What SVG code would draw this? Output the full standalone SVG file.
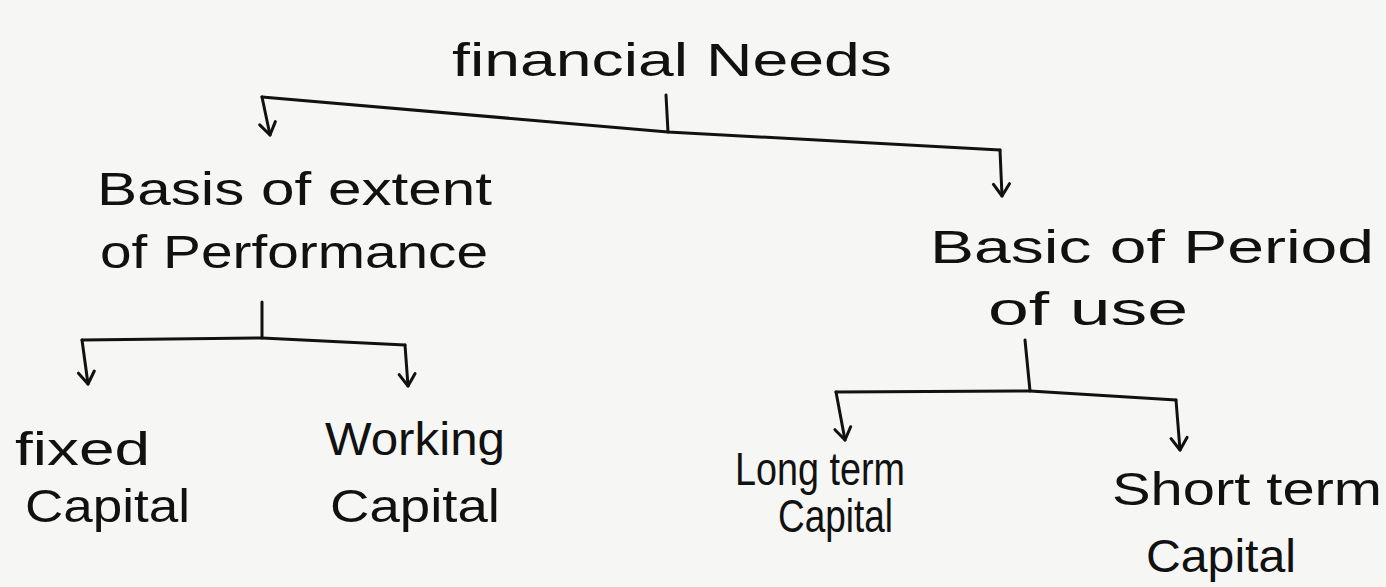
<svg xmlns="http://www.w3.org/2000/svg" width="1386" height="587" viewBox="0 0 1386 587">
<style>
.t{font-family:"Liberation Sans","DejaVu Sans",sans-serif;fill:#111;font-size:46px}
.c{fill:none;stroke:#111;stroke-width:3;stroke-linecap:round;stroke-linejoin:round}
</style>
<defs>
<marker id="ah" viewBox="0 0 20 20" refX="18" refY="10" markerWidth="20" markerHeight="20" markerUnits="userSpaceOnUse" orient="auto">
<path d="M6 2 L18 10 L6 18" fill="none" stroke="#111" stroke-width="3" stroke-linecap="round" stroke-linejoin="round"/>
</marker>
</defs>
<rect width="1386" height="587" fill="#f6f6f4"/>
<g id="connectors">
<path class="c" d="M666 95 L668 132"/>
<path class="c" d="M262 97 L668 132 L1000 150"/>
<path class="c" d="M262 97 L270 135" marker-end="url(#ah)"/>
<path class="c" d="M1000 150 L1002 196" marker-end="url(#ah)"/>
<path class="c" d="M262 302 L262 338"/>
<path class="c" d="M82 340 L262 338 L405 345"/>
<path class="c" d="M82 340 L88 384" marker-end="url(#ah)"/>
<path class="c" d="M405 345 L408 386" marker-end="url(#ah)"/>
<path class="c" d="M1025 340 L1030 391"/>
<path class="c" d="M836 392 L1030 391 L1176 400"/>
<path class="c" d="M836 392 L845 440" marker-end="url(#ah)"/>
<path class="c" d="M1176 400 L1180 450" marker-end="url(#ah)"/>
</g>
<g id="n-financial-needs"><text class="t" x="452" y="76" font-size="54" textLength="440" lengthAdjust="spacingAndGlyphs">financial Needs</text></g>
<g id="n-basis-extent">
<text class="t" x="97" y="205" font-size="50" textLength="395" lengthAdjust="spacingAndGlyphs">Basis of extent</text>
<text class="t" x="100" y="268" font-size="50" textLength="388" lengthAdjust="spacingAndGlyphs">of Performance</text>
</g>
<g id="n-basic-period">
<text class="t" x="930" y="263" font-size="52" textLength="444" lengthAdjust="spacingAndGlyphs">Basic of Period</text>
<text class="t" x="988" y="325" font-size="50" textLength="200" lengthAdjust="spacingAndGlyphs">of use</text>
</g>
<g id="n-fixed-capital">
<text class="t" x="15" y="465" font-size="50" textLength="135" lengthAdjust="spacingAndGlyphs">fixed</text>
<text class="t" x="25" y="522" font-size="50" textLength="165" lengthAdjust="spacingAndGlyphs">Capital</text>
</g>
<g id="n-working-capital">
<text class="t" x="325" y="455" font-size="48" textLength="180" lengthAdjust="spacingAndGlyphs">Working</text>
<text class="t" x="330" y="522" font-size="48" textLength="170" lengthAdjust="spacingAndGlyphs">Capital</text>
</g>
<g id="n-long-term">
<text class="t" x="735" y="485" font-size="40" textLength="170" lengthAdjust="spacingAndGlyphs">Long term</text>
<text class="t" x="778" y="532" font-size="40" textLength="115" lengthAdjust="spacingAndGlyphs">Capital</text>
</g>
<g id="n-short-term">
<text class="t" x="1112" y="505" font-size="48" textLength="270" lengthAdjust="spacingAndGlyphs">Short term</text>
<text class="t" x="1146" y="572" font-size="46" textLength="150" lengthAdjust="spacingAndGlyphs">Capital</text>
</g>
</svg>
